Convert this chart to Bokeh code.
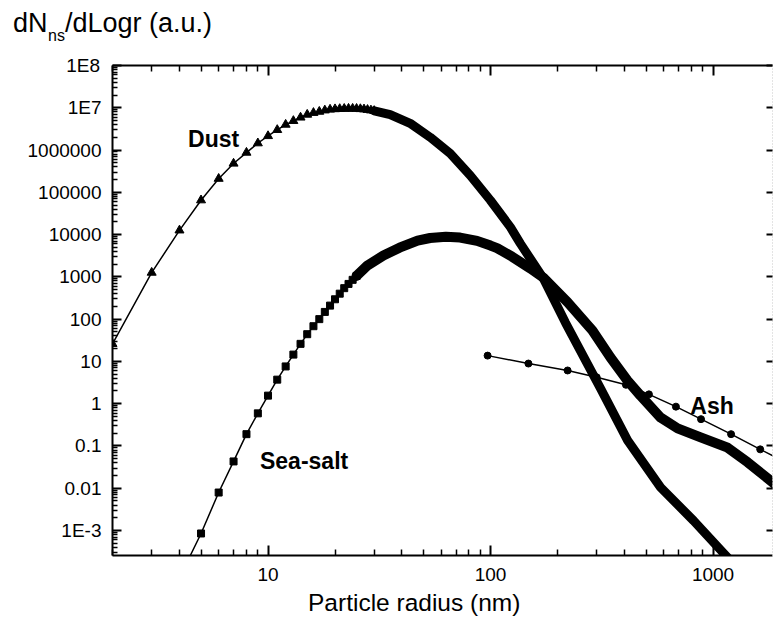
from bokeh.plotting import figure
from bokeh.layouts import column
from bokeh.models import LogAxis, FixedTicker, CustomJSTickFormatter, Label, Range1d, Div
from bokeh.embed import file_html
from bokeh.resources import INLINE

FONT = "Liberation Sans"

# ---- data ----
dust_r_markers = list(range(2, 31))
dust_markers = [26, 1260, 12600, 65000, 2.1e5, 4.8e5, 8.7e5, 1.45e6, 2.15e6, 3.0e6,
                4.0e6, 4.9e6, 5.9e6, 6.9e6, 7.6e6, 8.1e6, 8.7e6, 9.1e6, 9.3e6, 9.4e6,
                9.5e6, 9.55e6, 9.55e6, 9.5e6, 9.35e6, 9.2e6, 8.95e6, 8.7e6, 8.45e6]
dust_r_band = [30, 35.4, 43.5, 53.6, 65.9, 81.1, 99.8, 122.8, 136, 172.8, 217, 312,
               413, 581, 818, 1116, 1400]
dust_band = [8.45e6, 6.9e6, 4.3e6, 2.0e6, 8.3e5, 2.5e5, 6.5e4, 1.5e4, 6.2e3, 910, 83,
             2.3, 0.135, 0.0105, 1.7e-3, 2.9e-4, 8e-5]

sea_r_markers = list(range(4, 26))
sea_markers = [7.6e-5, 8.5e-4, 7.9e-3, 0.043, 0.19, 0.59, 1.55, 3.7, 7.6, 14.5, 26,
               44, 68, 100, 148, 209, 295, 400, 540, 680, 850, 1050]
sea_r_band = [25, 28, 33, 39, 47, 53.5, 63, 73, 87, 100, 107, 125, 151, 173, 200, 222,
              287, 346, 413, 472, 581, 693, 880, 1163, 1431, 1816, 2000]
sea_band = [1050, 1860, 3200, 4900, 7200, 8300, 8900, 8500, 7100, 5500, 4800, 3000,
            1580, 950, 440, 250, 54, 12.3, 3.5, 1.55, 0.47, 0.26, 0.16, 0.091, 0.041,
            0.015, 0.0098]

ash_r = [97, 148, 222, 300, 406, 515, 681, 883, 1205, 1629, 2200]
ash = [13.7, 8.9, 6.1, 4.2, 2.8, 1.66, 0.85, 0.43, 0.19, 0.083, 0.037]

x_exponents = [1, 2, 3]
x_labels = ["10", "100", "1000"]
y_exponents = list(range(-3, 9))
y_labels = ["1E-3", "0.01", "0.1", "1", "10", "100", "1000", "10000", "100000",
            "1000000", "1E7", "1E8"]

X_MIN, X_MAX = 2, 1850
Y_MIN, Y_MAX = 2.56e-4, 1e8

BLACK = "black"

# ---- axis titles (and the top tick label, which Bokeh would nudge inside the frame),
#      laid over the borders of the figure ----
span = "position:absolute;white-space:nowrap;"
titles_html = (
    "<div style=\"position:relative;width:773px;height:617px;"
    "font-family:'Liberation Sans',Arial,sans-serif;color:#000;\">"
    f"<span style=\"{span}left:13px;top:10px;font-size:27px;line-height:27px;\">dN</span>"
    f"<span style=\"{span}left:48px;top:28px;font-size:16px;line-height:16px;\">ns</span>"
    f"<span style=\"{span}left:65px;top:10px;font-size:27px;line-height:27px;\">/dLogr (a.u.)</span>"
    f"<span style=\"{span}left:308px;top:591px;font-size:24.5px;line-height:24.5px;\">"
    "Particle radius (nm)</span>"
    f"<span style=\"{span}right:673px;top:56px;font-size:19px;line-height:19px;"
    f"text-align:right;\">{y_labels[-1]}</span>"
    "</div>"
)
titles = Div(text=titles_html, width=773, height=617, margin=(0, 0, 0, 0),
             styles={"position": "absolute", "top": "0px", "left": "0px",
                     "pointer-events": "none"})

# ---- main figure ----
p = figure(width=773, height=617, x_axis_type="log", y_axis_type="log",
           x_range=Range1d(X_MIN, X_MAX), y_range=Range1d(Y_MIN, Y_MAX),
           min_border_left=112, min_border_right=1, min_border_top=65,
           min_border_bottom=62, output_backend="svg", toolbar_location=None)
p.outline_line_color = None
p.grid.visible = False

x_major = [10.0 ** e for e in x_exponents]
x_minor = [m * 10.0 ** e for e in range(0, 4) for m in range(2, 10)
           if X_MIN <= m * 10.0 ** e <= X_MAX]
y_major = [10.0 ** e for e in y_exponents]
y_minor = [m * 10.0 ** e for e in range(-4, 8) for m in range(2, 10)
           if Y_MIN <= m * 10.0 ** e <= Y_MAX]

fmt_code = """
const e = Math.round(Math.log10(tick));
const i = exps.indexOf(e);
return i >= 0 ? labels[i] : "";
"""
blank = CustomJSTickFormatter(code='return "";')


def style(ax, tick_in=9, minor_in=5):
    ax.axis_line_width = 2
    ax.axis_line_color = BLACK
    ax.major_tick_in = tick_in
    ax.major_tick_out = 0
    ax.minor_tick_in = minor_in
    ax.minor_tick_out = 0
    ax.major_tick_line_width = 2
    ax.minor_tick_line_width = 1.5
    ax.major_tick_line_color = BLACK
    ax.minor_tick_line_color = BLACK
    ax.major_label_text_font = FONT
    ax.major_label_text_font_size = "19px"
    ax.major_label_text_color = BLACK


xb = p.xaxis[0]
xb.ticker = FixedTicker(ticks=x_major, minor_ticks=x_minor)
xb.formatter = CustomJSTickFormatter(args=dict(exps=x_exponents, labels=x_labels), code=fmt_code)
style(xb, 10, 6)
xb.major_label_standoff = 12

# the top label ("1E8") is drawn in the overlay above, at the tick's true height
axis_y_labels = y_labels[:-1] + [""]
yl = p.yaxis[0]
yl.ticker = FixedTicker(ticks=y_major, minor_ticks=y_minor)
yl.formatter = CustomJSTickFormatter(args=dict(exps=y_exponents, labels=axis_y_labels),
                                     code=fmt_code)
style(yl, 9, 5)
yl.major_label_standoff = 11

xt = LogAxis(ticker=FixedTicker(ticks=x_major, minor_ticks=x_minor), formatter=blank)
style(xt, 10, 6)
xt.major_label_standoff = 0
xt.major_label_text_font_size = "1px"
p.add_layout(xt, "above")

yr = LogAxis(ticker=FixedTicker(ticks=y_major, minor_ticks=y_minor), formatter=blank)
style(yr, 6, 0)
yr.axis_line_color = "#c8c8c8"
yr.axis_line_width = 1
yr.axis_line_dash = "1 2"
yr.major_label_standoff = 0
yr.major_label_text_font_size = "1px"
p.add_layout(yr, "right")

# ---- series ----
# Dust
p.line(dust_r_markers + dust_r_band[1:], dust_markers + dust_band[1:],
       line_width=1.5, color=BLACK)
p.scatter(dust_r_markers, dust_markers, marker="triangle", size=9, color=BLACK)
p.line(dust_r_band, dust_band, line_width=9, color=BLACK,
       line_join="round", line_cap="round")

# Sea-salt
p.line(sea_r_markers + sea_r_band[1:], sea_markers + sea_band[1:],
       line_width=1.5, color=BLACK)
p.scatter(sea_r_markers, sea_markers, marker="square", size=7, color=BLACK)
p.line(sea_r_band, sea_band, line_width=10, color=BLACK,
       line_join="round", line_cap="round")

# Ash
p.line(ash_r, ash, line_width=1.5, color=BLACK)
p.scatter(ash_r, ash, marker="circle", size=7, color=BLACK)

# ---- annotations ----
ann = dict(text_font=FONT, text_font_style="bold", text_font_size="23px",
           text_color=BLACK, text_baseline="alphabetic")
p.add_layout(Label(x=4.37, y=1.78e6, text="Dust", **ann))
p.add_layout(Label(x=9.2, y=0.0452, text="Sea-salt", **ann))
p.add_layout(Label(x=790, y=0.905, text="Ash", **ann))

layout = column(p, titles, spacing=0)
open("out.html", "w").write(file_html(layout, INLINE))
